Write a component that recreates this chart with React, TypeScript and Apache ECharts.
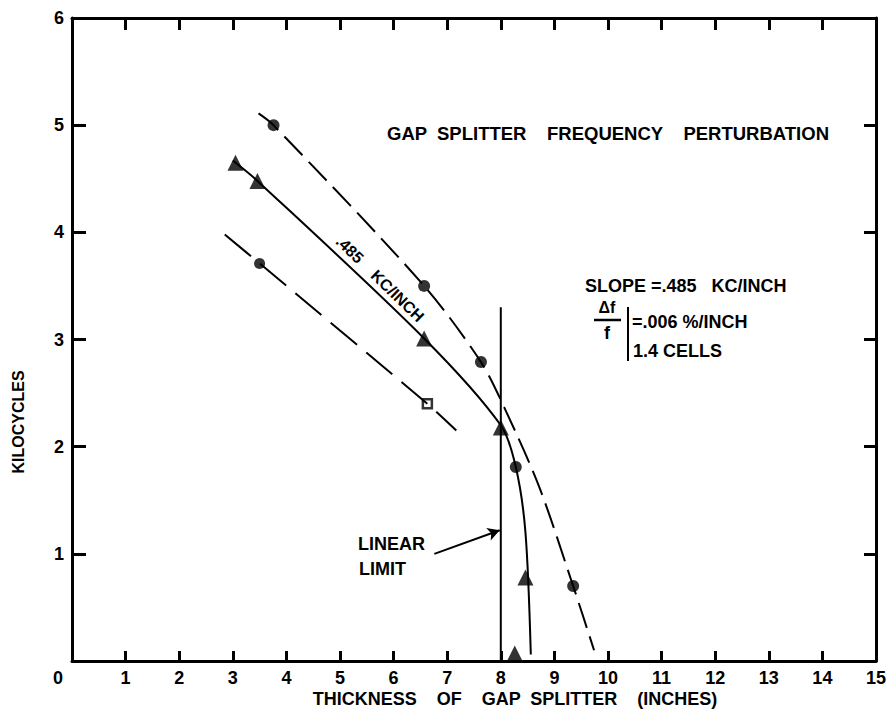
import React, { useEffect, useRef } from "react";
import * as echarts from "echarts";

// ---- data ----
const xTicks = [0, 1, 2, 3, 4, 5, 6, 7, 8, 9, 10, 11, 12, 13, 14, 15];
const yTicks = [0, 1, 2, 3, 4, 5, 6];

// upper dashed curve (circles)
const upperCurve: [number, number][] = [
  [3.48, 5.11], [3.76, 5.0], [6.57, 3.5], [7.63, 2.79], [8.07, 2.36], [8.72, 1.62], [9.35, 0.7], [9.74, 0.1],
];
const upperCircles: [number, number][] = [
  [3.76, 5.0], [6.57, 3.5], [7.63, 2.79], [9.35, 0.7],
];
// middle solid curve (triangles), slope .485 kc/inch
const solidCurve: [number, number][] = [
  [3.0, 4.67], [3.46, 4.48], [6.57, 3.01], [8.0, 2.2], [8.28, 1.81], [8.46, 1.2], [8.56, 0.06],
];
const triangles: [number, number][] = [
  [3.05, 4.65], [3.46, 4.48], [6.57, 3.01], [8.0, 2.18], [8.46, 0.78], [8.26, 0.07],
];
const solidCircles: [number, number][] = [[8.28, 1.81]];
// lower dashed line
const lowerCurve: [number, number][] = [
  [2.85, 3.98], [3.5, 3.71], [6.63, 2.4], [7.17, 2.15],
];
const lowerCircles: [number, number][] = [[3.5, 3.71]];
const lowerSquares: [number, number][] = [[6.63, 2.4]];
// linear limit
const linearLimit: [number, number][] = [[8.0, 0], [8.0, 3.3]];
const arrowFrom: [number, number] = [6.76, 1.0];
const arrowTo: [number, number] = [7.98, 1.22];

const FONT = "Liberation Sans";

export default function App() {
  const ref = useRef<HTMLDivElement>(null);
  useEffect(() => {
    if (!ref.current) return;
    const chart = echarts.init(ref.current, undefined, { renderer: "svg" });
    const mkLine = () => ({ show: true, onZero: false, lineStyle: { color: "#000000", width: 3 } });
    const mkTick = (len: number) => ({ show: true, inside: true, length: len, lineStyle: { width: 3, color: "#000000" } });
    const lbl = { color: "#000", fontFamily: FONT, fontWeight: "bold", fontSize: 18 } as any;
    const F18 = `bold 18px "${FONT}"`;
    const txt = (text: string, x: number, y: number, extra: any = {}) => ({
      type: "text",
      x,
      y,
      style: {
        text,
        fill: "#000",
        font: F18,
        textVerticalAlign: "middle",
        ...extra,
      },
    });
    chart.setOption({
      animation: false,
      backgroundColor: "#ffffff",
      grid: { left: 72, right: 8, top: 18, bottom: 62 },
      xAxis: [
        {
          type: "value", gridIndex: 0, position: "bottom", min: xTicks[0], max: xTicks[xTicks.length - 1], interval: 1,
          axisLine: mkLine(), splitLine: { show: false },
          axisTick: mkTick(10),
          axisLabel: { ...lbl, margin: 8, formatter: (v: number) => (v === 0 ? "" : String(v)) },
        },
        {
          type: "value", gridIndex: 0, position: "top", min: 0, max: 15, interval: 1,
          axisLine: mkLine(), splitLine: { show: false },
          axisTick: mkTick(12),
          axisLabel: { show: false },
        },
      ],
      yAxis: [
        {
          type: "value", gridIndex: 0, position: "left", min: yTicks[0], max: yTicks[yTicks.length - 1], interval: 1,
          axisLine: mkLine(), splitLine: { show: false },
          axisTick: mkTick(14),
          axisLabel: { ...lbl, margin: 8, formatter: (v: number) => (v === 0 ? "" : String(v)) },
        },
        {
          type: "value", gridIndex: 0, position: "right", min: 0, max: 6, interval: 1,
          axisLine: mkLine(), splitLine: { show: false },
          axisTick: mkTick(12),
          axisLabel: { show: false },
        },
      ],
      series: [
        {
          type: "line", data: upperCurve, smooth: 0.3, showSymbol: false, symbol: "none",
          lineStyle: { color: "#000", width: 2, type: [26, 9] },
        },
        {
          type: "line", data: solidCurve, smooth: 0.3, showSymbol: false, symbol: "none",
          lineStyle: { color: "#000", width: 2 },
        },
        {
          type: "line", data: lowerCurve, smooth: 0.3, showSymbol: false, symbol: "none",
          lineStyle: { color: "#000", width: 2, type: [34, 12] },
        },
        {
          type: "line", data: linearLimit, showSymbol: false, symbol: "none",
          lineStyle: { color: "#000", width: 2 },
          markLine: {
            silent: true, symbol: ["none", "arrow"], symbolSize: [10, 12], label: { show: false },
            lineStyle: { color: "#000", width: 2, type: "solid" },
            data: [[{ coord: arrowFrom }, { coord: arrowTo }]],
          },
        },
        { type: "scatter", data: upperCircles, symbol: "circle", symbolSize: 12, itemStyle: { color: "#000" } },
        { type: "scatter", data: solidCircles, symbol: "circle", symbolSize: 12, itemStyle: { color: "#000" } },
        { type: "scatter", data: lowerCircles, symbol: "circle", symbolSize: 11, itemStyle: { color: "#000" } },
        { type: "scatter", data: triangles, symbol: "triangle", symbolSize: 16, itemStyle: { color: "#000" } },
        {
          type: "scatter", data: lowerSquares, symbol: "rect", symbolSize: 9,
          itemStyle: { color: "#fff", borderColor: "#000", borderWidth: 2.5 },
        },
      ],
      graphic: [
        txt("0", 58, 678, { textAlign: "center" }),
        txt("THICKNESS    OF    GAP  SPLITTER    (INCHES)", 515, 699, { textAlign: "center" }),
        {
          type: "text", x: 18, y: 422, rotation: Math.PI / 2,
          style: { text: "KILOCYCLES", fill: "#000", font: `bold 16px "${FONT}"`, textAlign: "center", textVerticalAlign: "middle" },
        },
        txt("GAP  SPLITTER    FREQUENCY    PERTURBATION", 387, 133, { font: `bold 18.5px "${FONT}"` }),
        {
          type: "text", x: 380, y: 279, rotation: -0.77,
          style: { text: ".485    KC/INCH", fill: "#000", font: `bold 16px "${FONT}"`, textAlign: "center", textVerticalAlign: "middle" },
        },
        txt("SLOPE =.485   KC/INCH", 585, 286),
        txt("Δf", 607, 307, { textAlign: "center", font: `bold 16px "${FONT}"` }),
        { type: "line", shape: { x1: 594, y1: 320, x2: 621, y2: 320 }, style: { stroke: "#000", lineWidth: 2.5 } },
        txt("f", 607, 333, { textAlign: "center" }),
        { type: "line", shape: { x1: 628, y1: 307, x2: 628, y2: 361 }, style: { stroke: "#000", lineWidth: 2 } },
        txt("=.006 %/INCH", 632, 322),
        txt("1.4 CELLS", 633, 351),
        txt("LINEAR", 358, 544),
        txt("LIMIT", 359, 569),
      ],
    } as any);
    return () => chart.dispose();
  }, []);
  return (
    <div
      ref={ref}
      style={{ position: "fixed", left: 0, top: 0, width: 889, height: 723, background: "#fff" }}
    />
  );
}
